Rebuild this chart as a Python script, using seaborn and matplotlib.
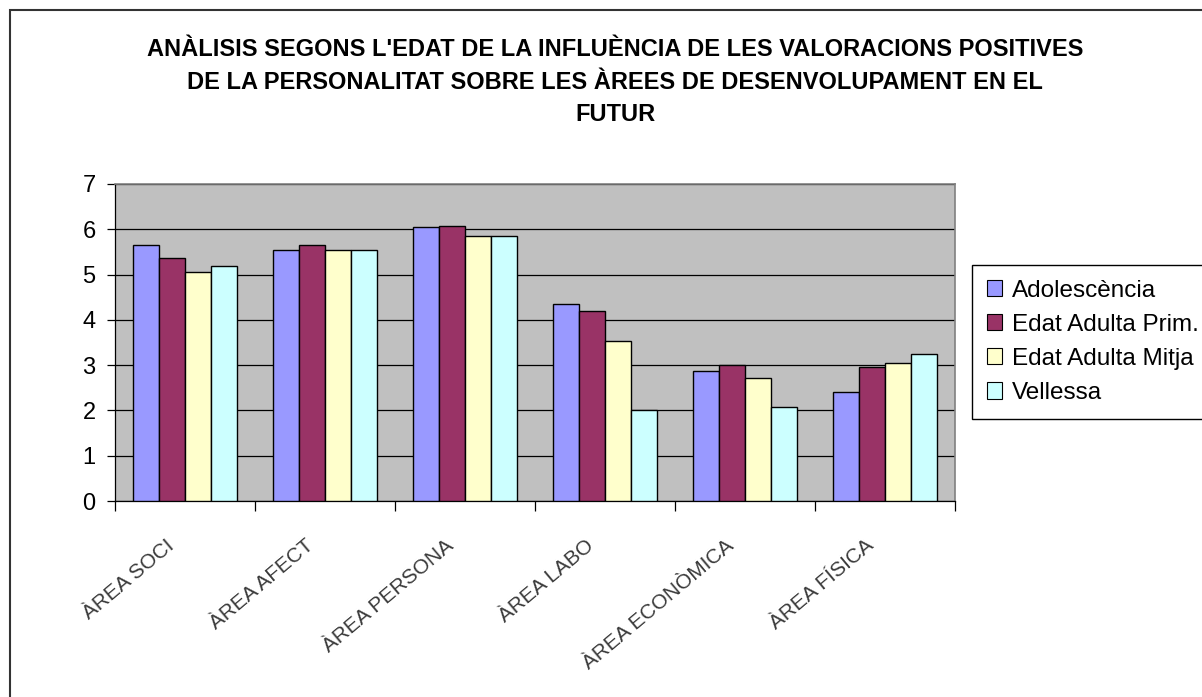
import pandas as pd
import numpy as np
import seaborn as sns
import matplotlib.pyplot as plt
from matplotlib.patches import Patch, Rectangle

plt.rcParams['font.family'] = ['Liberation Sans', 'DejaVu Sans']

# -----------------------------
# Data
# -----------------------------
areas = ["ÀREA SOCI", "ÀREA AFECT", "ÀREA PERSONA", "ÀREA LABO",
         "ÀREA ECONÒMICA", "ÀREA FÍSICA"]
groups = ["Adolescència", "Edat Adulta Prim.", "Edat Adulta Mitja", "Vellessa"]

adolescencia = [5.65, 5.55, 6.04, 4.34, 2.86, 2.40]
adulta_prim = [5.37, 5.65, 6.08, 4.20, 3.01, 2.97]
adulta_mitja = [5.05, 5.55, 5.86, 3.53, 2.72, 3.04]
vellessa = [5.20, 5.55, 5.86, 2.02, 2.08, 3.25]

colors = ["#9999FF", "#993366", "#FFFFCC", "#CCFFFF"]

title = ("ANÀLISIS SEGONS L'EDAT DE LA INFLUÈNCIA DE LES VALORACIONS POSITIVES\n"
         "DE LA PERSONALITAT SOBRE LES ÀREES DE DESENVOLUPAMENT EN EL\n"
         "FUTUR")

df = pd.DataFrame({
    "area": areas * 4,
    "grup": [g for g in groups for _ in areas],
    "valor": adolescencia + adulta_prim + adulta_mitja + vellessa,
})

# -----------------------------
# Figure
# -----------------------------
W, H = 1202, 697
fig = plt.figure(figsize=(W / 100, H / 100), dpi=100)
ax = fig.add_axes([115 / W, 1 - 501 / H, 840 / W, 317 / H])
ax.set_facecolor("#C0C0C0")

sns.barplot(data=df, x="area", y="valor", hue="grup", palette=colors,
            width=0.74, edgecolor="black", linewidth=1.0, saturation=1,
            legend=False, ax=ax, zorder=3)

ax.set_ylim(0, 7)
ax.set_xlim(-0.5, len(areas) - 0.5)
ax.set_yticks(range(0, 8))
ax.yaxis.grid(True, color="black", linewidth=0.9, zorder=1)
ax.set_axisbelow(True)
ax.tick_params(axis="y", labelsize=17, length=6, width=0.9, pad=8, direction="out")

# category boundary ticks on x, labels drawn separately
ax.set_xticks(np.arange(-0.5, len(areas), 1.0))
ax.set_xticklabels([])
ax.tick_params(axis="x", length=7, width=0.9, direction="out")
ax.set_xlabel("")
ax.set_ylabel("")

for side in ["top", "right"]:
    ax.spines[side].set_color("#808080")
    ax.spines[side].set_linewidth(1.2)
for side in ["left", "bottom"]:
    ax.spines[side].set_color("black")
    ax.spines[side].set_linewidth(0.9)

for i, lab in enumerate(areas):
    ax.text(i - 0.14, -0.11, lab, transform=ax.get_xaxis_transform(),
            rotation=40, rotation_mode="anchor", ha="right", va="top",
            fontsize=15, color="#3a3a3a")

fig.text(615 / W, 1 - 38 / H, title, ha="center", va="top", fontsize=17,
         fontweight="bold", linespacing=1.54)

# outer chart border (runs past right/bottom edge of the image)
fig.patches.append(Rectangle((10 / W, -0.1), 1.2, 1 - 10 / H + 0.1,
                             transform=fig.transFigure, fill=False,
                             edgecolor="#333333", linewidth=1.5))

handles = [Patch(facecolor=c, edgecolor="black", linewidth=0.8) for c in colors]
fig.legend(handles, groups, loc="upper left", mode="expand",
           bbox_to_anchor=(972 / W, 1 - 265 / H, 0.3, 0), fontsize=17.5,
           frameon=True, fancybox=False, edgecolor="black", framealpha=1,
           handlelength=0.65, handleheight=0.65, handletextpad=0.4,
           labelspacing=0.5, borderpad=0.6, borderaxespad=0)

fig.savefig("out.png", dpi=100)
